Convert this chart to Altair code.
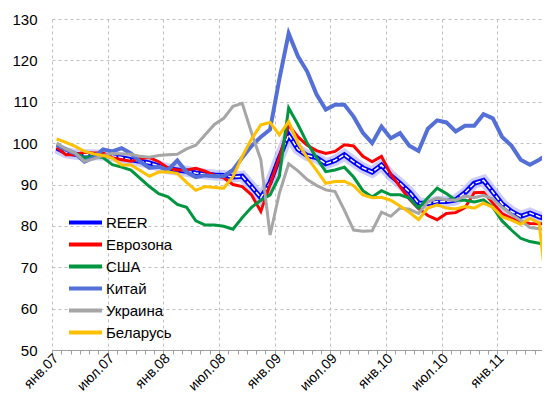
import json
import altair as alt
import pandas as pd

series = ["REER", "Еврозона", "США", "Китай", "Украина", "Беларусь"]
colors = ["#0000FF", "#FF0000", "#00963F", "#5470D6", "#A6A6A6", "#FFC000"]
widths = [5, 3, 3, 4, 3, 3]

tick_labels = ["янв.07", "июл.07", "янв.08", "июл.08", "янв.09",
               "июл.09", "янв.10", "июл.10", "янв.11"]

reer = [98.8, 97.7, 97.3, 97.2, 97.2, 97.1, 96.9, 96.5, 96.0, 95.6,
        95.2, 94.5, 93.8, 93.5, 93.2, 92.8, 92.5, 92.3, 92.2, 91.8,
        92.0, 89.5, 86.8, 90.5, 96.5, 102.0, 98.5, 97.0, 96.5, 95.0,
        95.8, 97.2, 95.5, 94.0, 93.0, 94.7, 92.2, 90.3, 88.2, 85.5,
        85.4, 85.9, 85.9, 86.3, 88.0, 90.3, 91.0, 88.2, 85.3, 83.5,
        82.3, 83.1, 82.2, 81.5]
eurozone = [99.0, 97.2, 97.2, 97.8, 97.6, 97.6, 96.5, 96.0, 95.6, 96.3,
            96.5, 95.5, 94.0, 93.5, 93.5, 93.9, 93.2, 92.2, 91.6, 90.0,
            89.5, 87.5, 83.5, 90.0, 96.5, 104.4, 101.5, 99.5, 98.2, 97.5,
            98.0, 99.6, 99.3, 96.8, 95.5, 96.8, 92.5, 89.5, 86.5, 84.2,
            82.5, 81.5, 83.0, 83.2, 84.4, 88.0, 88.1, 85.5, 83.0, 81.8,
            81.0, 80.6, 80.5, 80.5]
usa = [99.5, 98.5, 97.5, 96.5, 96.8, 96.5, 94.8, 94.2, 93.5, 91.5,
       89.5, 87.8, 87.0, 85.2, 84.5, 81.2, 80.2, 80.2, 79.9, 79.2,
       82.0, 84.5, 86.2, 87.5, 92.0, 108.5, 104.5, 100.0, 96.5, 93.1,
       93.5, 94.2, 91.8, 88.5, 87.0, 88.5, 87.5, 87.5, 86.7, 84.3,
       86.8, 89.1, 87.8, 86.2, 86.2, 85.8, 86.3, 84.5, 81.2, 79.0,
       77.0, 76.2, 75.8, 75.5]
china = [99.5, 98.5, 97.5, 95.5, 96.5, 98.5, 98.0, 98.8, 97.5, 95.5,
         94.0, 94.3, 93.5, 95.8, 93.0, 91.8, 92.2, 92.0, 92.0, 93.5,
         96.5, 99.3, 101.5, 103.3, 115.5, 126.5, 121.0, 117.3, 111.8, 108.1,
         109.3, 109.3, 106.4, 102.5, 100.0, 104.0, 101.2, 102.4, 99.4, 98.1,
         103.5, 105.5, 105.0, 102.8, 104.2, 104.2, 107.0, 106.0, 101.5, 99.4,
         96.0, 94.8, 96.0, 97.4]
ukraine = [100.0, 98.6, 97.6, 95.6, 96.2, 97.0, 97.5, 97.4, 97.3, 96.8,
           96.6, 97.0, 97.2, 97.3, 98.6, 99.5, 102.0, 104.5, 106.0, 108.9,
           109.6, 102.5, 96.0, 77.8, 87.9, 95.0, 93.3, 91.2, 89.8, 88.7,
           88.3, 83.8, 79.0, 78.7, 78.8, 83.3, 82.3, 84.3, 84.0, 83.0,
           85.8, 86.7, 86.3, 86.2, 87.2, 86.8, 87.4, 86.5, 84.5, 82.8,
           81.3, 79.6, 79.3, 79.2]
belarus = [101.0, 100.2, 99.2, 98.0, 97.4, 97.0, 96.4, 94.7, 94.7, 93.4,
           92.0, 93.0, 93.0, 92.7, 90.5, 88.6, 89.5, 89.3, 89.1, 91.9,
           96.8, 101.0, 104.4, 105.0, 102.0, 105.2, 100.0, 96.5, 93.5, 90.3,
           90.7, 90.8, 89.7, 87.5, 86.8, 86.9, 86.2, 84.8, 83.3, 81.5,
           84.3, 85.1, 84.3, 84.1, 84.7, 84.3, 85.5, 84.5, 82.2, 81.4,
           80.4, 81.8, 80.7, 60.0]

all_values = [reer, eurozone, usa, china, ukraine, belarus]
month_pos = [k + 0.5 for k in range(len(reer))]

rows = []
for name, vals in zip(series, all_values):
    for p, v in zip(month_pos, vals):
        rows.append({"t": p, "v": v, "s": name})
df = pd.DataFrame(rows)

FONT = "Liberation Sans"
GRID = "#C0C0C0"

label_expr = ("datum.value % 6 === 0 ? "
              + json.dumps(tick_labels, ensure_ascii=False)
              + "[datum.value / 6] : ''")

x_axis = alt.Axis(
    values=list(range(0, 53)), labelExpr=label_expr, labelAngle=-45,
    labelAlign="right", labelBaseline="middle", labelOverlap=False,
    labelFlush=False, labelBound=False, labelPadding=2, labelOffset=4,
    tickSize=4, tickColor="#A0A0A0", domainColor="#A0A0A0",
    gridOpacity={"condition": {"test": "datum.value % 6 === 0", "value": 1}, "value": 0},
    gridColor=GRID, gridDash=[3, 3], title=None, labelFontSize=14,
    labelColor="black", labelFont=FONT)

y_axis = alt.Axis(
    values=list(range(50, 131, 10)), domain=False, ticks=False, labelPadding=15,
    labelFontSize=15, labelColor="black", labelFont=FONT, gridColor=GRID,
    gridDash=[3, 3], title=None)

x_scale = alt.Scale(domain=[0, 52.8], nice=False, zero=False)
y_scale = alt.Scale(domain=[50, 130], nice=False, zero=False)

base = alt.Chart(df).encode(
    x=alt.X("t:Q", scale=x_scale, axis=x_axis),
    y=alt.Y("v:Q", scale=y_scale, axis=y_axis),
)

legend = alt.Legend(
    title=None, orient="none", legendX=24, legendY=194,
    symbolType="M-2.2,0H2.2", symbolStrokeWidth=4, symbolSize=225,
    labelFontSize=15, labelFont=FONT, labelColor="black", rowPadding=4,
    labelOffset=11, padding=0)

color = alt.Color("s:N", scale=alt.Scale(domain=series, range=colors), legend=legend)

layers = []
layers.append(base.transform_filter(alt.datum.s == "REER").mark_line(
    strokeWidth=11, color="#9C9CFF", opacity=0.5, clip=True))
for name, w in zip(series, widths):
    layers.append(base.transform_filter(alt.datum.s == name).mark_line(
        strokeWidth=w, clip=True).encode(color=color))
    if name == "REER":
        layers.append(base.transform_filter(alt.datum.s == "REER").mark_line(
            strokeWidth=1.5, color="white", strokeDash=[5, 2], clip=True))

chart = alt.layer(*layers).properties(
    width=490, height=331,
    autosize=alt.AutoSizeParams(type="none"),
    padding={"left": 44, "top": 11, "right": 0, "bottom": 47},
).configure_view(stroke=None)

chart.save("out.html", embed_options={"renderer": "svg", "actions": False})
